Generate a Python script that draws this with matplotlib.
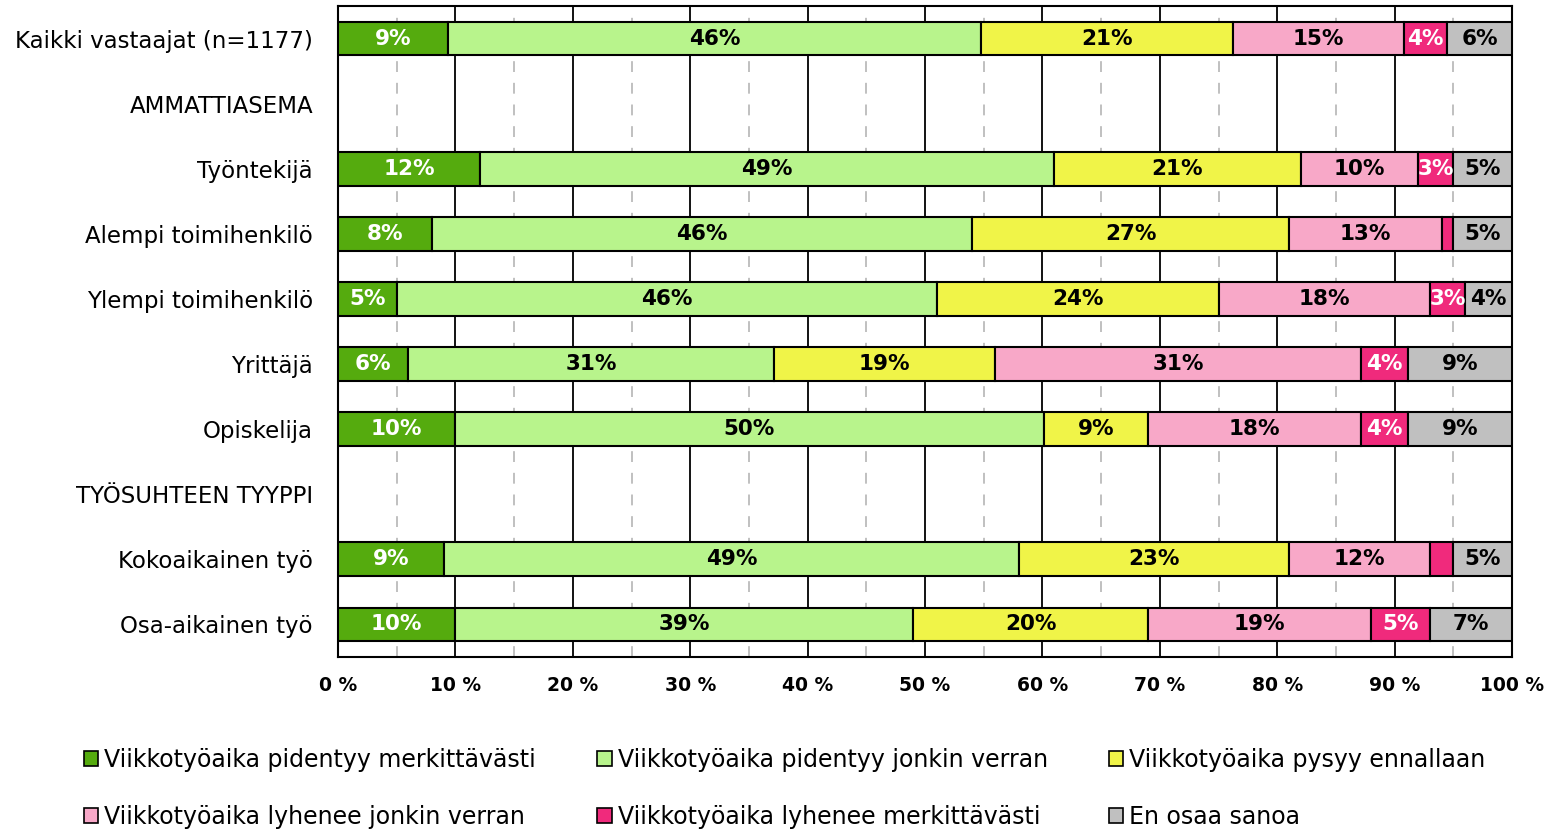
import matplotlib
matplotlib.use("Agg")
import matplotlib.pyplot as plt
from matplotlib.patches import Patch
import numpy as np

categories = ["Kaikki vastaajat (n=1177)", "AMMATTIASEMA", "Työntekijä",
              "Alempi toimihenkilö", "Ylempi toimihenkilö", "Yrittäjä",
              "Opiskelija", "TYÖSUHTEEN TYYPPI", "Kokoaikainen työ",
              "Osa-aikainen työ"]
series_names = ["Viikkotyöaika pidentyy merkittävästi",
                "Viikkotyöaika pidentyy jonkin verran",
                "Viikkotyöaika pysyy ennallaan",
                "Viikkotyöaika lyhenee jonkin verran",
                "Viikkotyöaika lyhenee merkittävästi",
                "En osaa sanoa"]
# values per series (heading rows are 0)
s_pid_merk = [9.4, 0, 12.1, 8.0, 5.0, 6.0, 10.0, 0, 9.0, 10.0]
s_pid_jonk = [45.4, 0, 48.9, 46.0, 46.0, 31.1, 50.1, 0, 49.0, 39.0]
s_pysyy    = [21.4, 0, 21.0, 27.0, 24.0, 18.9, 8.9, 0, 23.0, 20.0]
s_lyh_jonk = [14.6, 0, 10.0, 13.0, 18.0, 31.1, 18.1, 0, 12.0, 19.0]
s_lyh_merk = [3.7, 0, 3.0, 1.0, 3.0, 4.0, 4.0, 0, 2.0, 5.0]
s_eos      = [5.5, 0, 5.0, 5.0, 4.0, 8.9, 8.9, 0, 5.0, 7.0]
# displayed labels
l_pid_merk = ["9%", "", "12%", "8%", "5%", "6%", "10%", "", "9%", "10%"]
l_pid_jonk = ["46%", "", "49%", "46%", "46%", "31%", "50%", "", "49%", "39%"]
l_pysyy    = ["21%", "", "21%", "27%", "24%", "19%", "9%", "", "23%", "20%"]
l_lyh_jonk = ["15%", "", "10%", "13%", "18%", "31%", "18%", "", "12%", "19%"]
l_lyh_merk = ["4%", "", "3%", "", "3%", "4%", "4%", "", "", "5%"]
l_eos      = ["6%", "", "5%", "5%", "4%", "9%", "9%", "", "5%", "7%"]
has_bar = [True, False, True, True, True, True, True, False, True, True]
xticks = [0, 10, 20, 30, 40, 50, 60, 70, 80, 90, 100]

series = [s_pid_merk, s_pid_jonk, s_pysyy, s_lyh_jonk, s_lyh_merk, s_eos]
labels = [l_pid_merk, l_pid_jonk, l_pysyy, l_lyh_jonk, l_lyh_merk, l_eos]
colors = ["#55ab0e", "#b8f48c", "#f0f448", "#f8a8c8", "#f02a7c", "#c0c0c0"]
text_colors = ["white", "black", "black", "black", "white", "black"]

plt.rcParams['font.family'] = ['DejaVu Sans']
fig = plt.figure(figsize=(15.56, 8.34), dpi=100)
ax = fig.add_axes([338/1556, 1 - 657/834, (1512-338)/1556, (657-6)/834])

y = np.arange(len(categories))
left = np.zeros(len(categories))
for vals, labs, col, tc in zip(series, labels, colors, text_colors):
    v = np.array(vals, dtype=float)
    idx = [i for i in range(len(categories)) if has_bar[i]]
    ax.barh(y[idx], v[idx], left=left[idx], height=0.52, color=col,
            edgecolor="black", linewidth=1.5, zorder=3)
    for i in idx:
        if labs[i]:
            ax.text(left[i] + v[i] / 2, y[i], labs[i], ha="center", va="center",
                    color=tc, fontsize=15.5, fontweight="bold", zorder=4)
    left = left + v

ax.set_xlim(0, 100)
ax.set_ylim(len(categories) - 0.5, -0.5)
for xv in range(10, 100, 10):
    ax.axvline(xv, color="black", linewidth=1.3, zorder=1)
for xv in range(5, 100, 10):
    ax.axvline(xv, color="#bbbbbb", linewidth=1.3, linestyle=(0, (6, 6)), zorder=1)
for s in ax.spines.values():
    s.set_linewidth(1.5)
    s.set_color("black")
ax.set_xticks(xticks)
ax.set_xticklabels([f"{t} %" for t in xticks], fontsize=13.5, fontweight="bold")
ax.tick_params(axis="x", length=0, pad=14)
ax.set_yticks(y)
ax.set_yticklabels(categories, fontsize=16.5)
ax.tick_params(axis="y", length=0, pad=18)

# row-major legend order for 3 columns x 2 rows
order = [0, 3, 1, 4, 2, 5]
handles = [Patch(facecolor=colors[k], edgecolor="black", linewidth=1.2) for k in order]
names = [series_names[k] for k in order]
leg = fig.legend(handles, names, loc="upper left", ncol=3,
                 bbox_to_anchor=(63/1556, 1 - 727/834), frameon=False, fontsize=17,
                 handlelength=0.6, handleheight=0.6, handletextpad=0.25,
                 columnspacing=2.6, labelspacing=1.4)
fig.savefig("out.png", dpi=100)
